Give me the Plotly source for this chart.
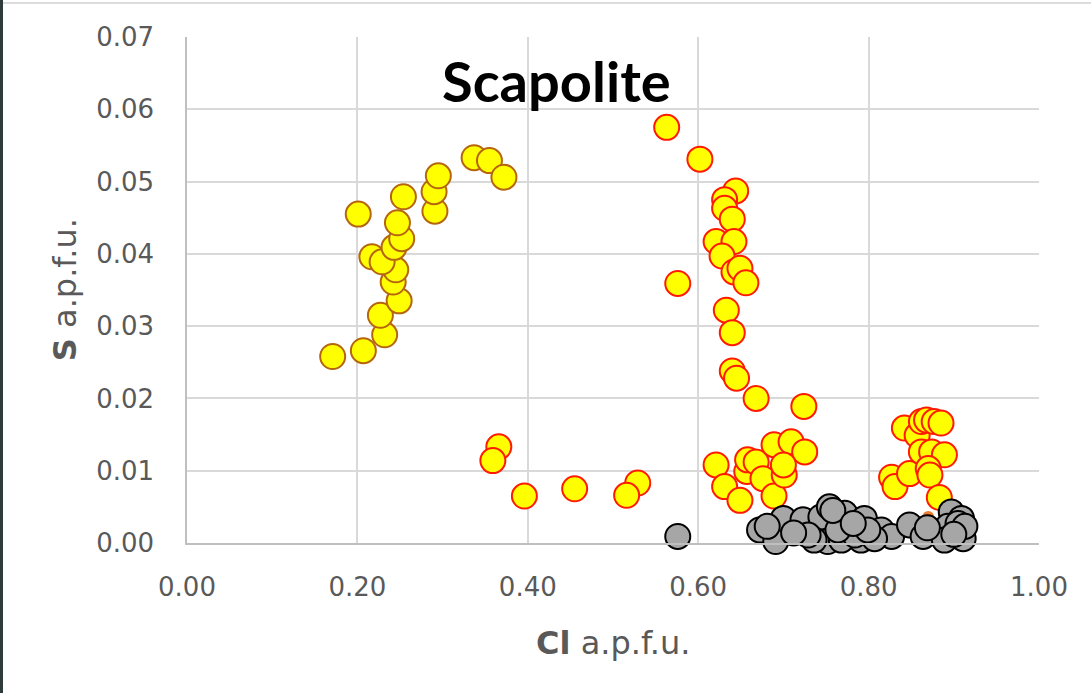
import plotly.graph_objects as go

# Left cluster (yellow, brown outline)
grpA_cl = [0.171, 0.207, 0.232, 0.227, 0.249, 0.242, 0.245, 0.217, 0.229, 0.243, 0.252,
           0.247, 0.201, 0.254, 0.291, 0.290, 0.295, 0.337, 0.355, 0.372]
grpA_s = [0.0258, 0.0266, 0.0288, 0.0315, 0.0335, 0.0361, 0.0378, 0.0396, 0.0389, 0.0409, 0.0421,
          0.0443, 0.0455, 0.0479, 0.0459, 0.0486, 0.0508, 0.0533, 0.0529, 0.0506]

# Right group (yellow, red outline)
grpB_cl = [0.563, 0.602, 0.644, 0.631, 0.631, 0.640, 0.621, 0.642, 0.628, 0.642, 0.649, 0.656,
           0.576, 0.633, 0.640, 0.640, 0.645, 0.668, 0.724,
           0.366, 0.359, 0.396, 0.455, 0.529, 0.516,
           0.621, 0.631, 0.649, 0.657, 0.658, 0.668, 0.676, 0.689, 0.689, 0.709, 0.725, 0.701, 0.700,
           0.827, 0.831, 0.842, 0.848, 0.857, 0.862, 0.868, 0.877, 0.885, 0.862, 0.874, 0.889,
           0.870, 0.872, 0.883]
grpB_s = [0.0575, 0.0531, 0.0487, 0.0475, 0.0463, 0.0448, 0.0417, 0.0417, 0.0397, 0.0375, 0.0380, 0.0360,
          0.0359, 0.0322, 0.0291, 0.0238, 0.0228, 0.0200, 0.0189,
          0.0133, 0.0114, 0.0065, 0.0075, 0.0083, 0.0066,
          0.0108, 0.0078, 0.0059, 0.0099, 0.0115, 0.0112, 0.0089, 0.0065, 0.0136, 0.0140, 0.0126, 0.0094, 0.0108,
          0.0091, 0.0078, 0.0159, 0.0096, 0.0149, 0.0168, 0.0170, 0.0168, 0.0166, 0.0126, 0.0126, 0.0122,
          0.0103, 0.0094, 0.0063]

# Gray group (black outline)
grpC_cl = [0.576, 0.672, 0.691, 0.700, 0.723, 0.744, 0.754, 0.752, 0.772, 0.795, 0.791, 0.815,
           0.827, 0.848, 0.864, 0.897, 0.909, 0.911, 0.893, 0.889, 0.736, 0.768, 0.729, 0.807,
           0.784, 0.681, 0.764, 0.799, 0.905, 0.913, 0.712, 0.758, 0.782, 0.869, 0.900]
grpC_s = [0.0009, 0.0018, 0.0002, 0.0034, 0.0032, 0.0036, 0.0050, 0.0002, 0.0041, 0.0034, 0.0004, 0.0018,
          0.0009, 0.0025, 0.0009, 0.0043, 0.0034, 0.0006, 0.0023, 0.0004, 0.0004, 0.0004, 0.0011, 0.0006,
          0.0011, 0.0023, 0.0018, 0.0018, 0.0027, 0.0023, 0.0014, 0.0045, 0.0027, 0.0021, 0.0012]

# Small orange point
grpD_cl = [0.870]
grpD_s = [0.0036]

x_ticks = [0.0, 0.2, 0.4, 0.6, 0.8, 1.0]
y_ticks = [0.00, 0.01, 0.02, 0.03, 0.04, 0.05, 0.06, 0.07]

fig = go.Figure()
fig.add_trace(go.Scatter(x=grpD_cl, y=grpD_s, mode="markers",
                         marker=dict(size=12, color="#ed7d31", line=dict(width=0)), cliponaxis=False))
fig.add_trace(go.Scatter(x=grpA_cl, y=grpA_s, mode="markers",
                         marker=dict(size=25, color="#ffff00", line=dict(width=2, color="#b5650d")),
                         cliponaxis=False))
fig.add_trace(go.Scatter(x=grpB_cl, y=grpB_s, mode="markers",
                         marker=dict(size=25, color="#ffff00", line=dict(width=2, color="#ff1a00")),
                         cliponaxis=False))
fig.add_trace(go.Scatter(x=grpC_cl, y=grpC_s, mode="markers",
                         marker=dict(size=25, color="#a6a6a6", line=dict(width=2, color="#000000")),
                         cliponaxis=False))

tickfont = dict(family="DejaVu Sans", size=26, color="#595959")
fig.update_xaxes(range=[0, 1], tickvals=x_ticks, ticktext=[f"{v:.2f}" for v in x_ticks],
                 showgrid=True, gridcolor="#d9d9d9", gridwidth=1.5, zeroline=False,
                 showline=True, linecolor="#bfbfbf", linewidth=1.5, ticks="",
                 tickfont=tickfont, ticklabelstandoff=20)
fig.update_yaxes(range=[0, 0.07], tickvals=y_ticks, ticktext=[f"{v:.2f}" for v in y_ticks],
                 showgrid=True, gridcolor="#d9d9d9", gridwidth=1.5, zeroline=False,
                 showline=True, linecolor="#bfbfbf", linewidth=1.5, ticks="",
                 tickfont=tickfont, ticklabelstandoff=26)

fig.update_layout(
    width=1091, height=693,
    margin=dict(l=187, r=52, t=37, b=150),
    paper_bgcolor="white", plot_bgcolor="white",
    showlegend=False,
    annotations=[
        dict(text="<b>Scapolite</b>", xref="paper", yref="paper", x=0.434, y=0.915,
             xanchor="center", yanchor="middle", showarrow=False,
             font=dict(family="Lato", size=56, color="#000000")),
        dict(text="<b>Cl</b> a.p.f.u.", xref="paper", yref="paper", x=0.5, y=-0.198,
             xanchor="center", yanchor="middle", showarrow=False,
             font=dict(family="DejaVu Sans", size=32, color="#595959")),
        dict(text="<b>S</b> a.p.f.u.", xref="paper", yref="paper", x=-0.143, y=0.5,
             xanchor="center", yanchor="middle", showarrow=False, textangle=-90,
             font=dict(family="DejaVu Sans", size=32, color="#595959")),
    ],
    shapes=[
        dict(type="rect", xref="paper", yref="paper", x0=-187/852, x1=-184/852, y0=-150/506, y1=543/506,
             fillcolor="#2f3a3a", line=dict(width=0)),
        dict(type="line", xref="paper", yref="paper", x0=-184/852, x1=1 + 52/852, y0=540/506, y1=540/506,
             line=dict(color="#d0d0d0", width=1.5)),
    ],
)

fig.write_html("out.html")
